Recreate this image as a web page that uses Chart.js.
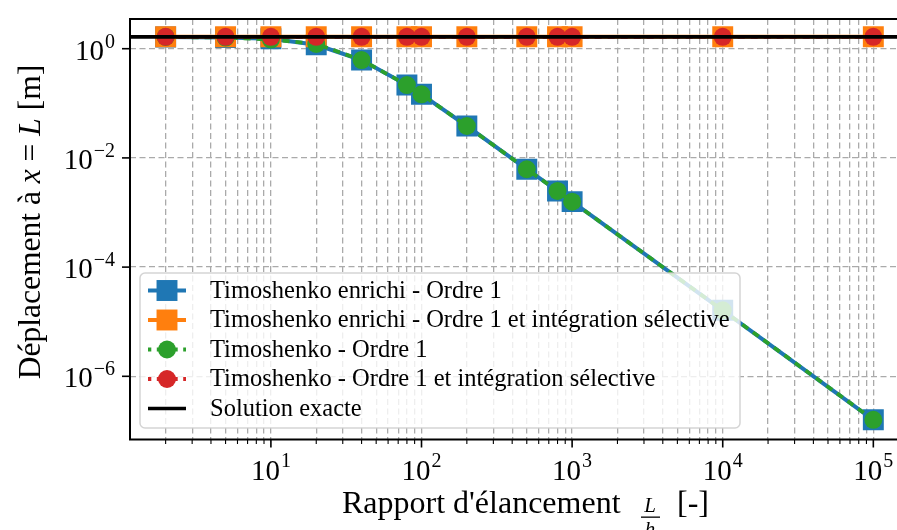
<!DOCTYPE html>
<html>
<head>
<meta charset="utf-8">
<script src="https://cdn.jsdelivr.net/npm/chart.js@4.4.0/dist/chart.umd.min.js"></script>
<style>
  html, body { margin: 0; padding: 0; background: #fff; }
</style>
</head>
<body>
<canvas id="miGrafico" width="897" height="530"></canvas>
<script>
// rapport d'élancement L/h
const ratios = [2, 5, 10, 20, 40, 80, 100, 200, 500, 800, 1000, 10000, 100000];

// déplacement à x = L [m]
const enrichi = [1.64, 1.61, 1.52, 1.18, 0.62, 0.216, 0.146, 0.0384, 0.0062, 0.00248, 0.00158, 1.62e-5, 1.6e-7];
const enrichiSelectif = [1.65, 1.65, 1.65, 1.65, 1.65, 1.65, 1.65, 1.65, 1.65, 1.65, 1.65, 1.65, 1.65];
const timo = [1.64, 1.60, 1.47, 1.22, 0.62, 0.216, 0.146, 0.0384, 0.0062, 0.00248, 0.00158, 1.62e-5, 1.6e-7];
const timoSelectif = [1.65, 1.65, 1.65, 1.65, 1.65, 1.65, 1.65, 1.65, 1.65, 1.65, 1.65, 1.65, 1.65];
const solutionExacte = 1.65;

const legendLabels = [
  "Timoshenko enrichi - Ordre 1",
  "Timoshenko enrichi - Ordre 1 et intégration sélective",
  "Timoshenko - Ordre 1",
  "Timoshenko - Ordre 1 et intégration sélective",
  "Solution exacte"
];

// axes
const xMin = 1.16;
const xMax = 1.436e5;
const yMin = 6.96e-8;
const yMax = 3.5;
const xMajor = [10, 100, 1000, 10000, 100000];
const xTickLabels = ["10^1", "10^2", "10^3", "10^4", "10^5"];
const yMajor = [1, 1e-2, 1e-4, 1e-6];
const yTickLabels = ["10^0", "10^-2", "10^-4", "10^-6"];

const xLabel = "Rapport d'élancement";
const yLabel = ["Déplacement à ", "x", " = ", "L", " [m]"];

const SERIF = "'Liberation Serif', serif";

const pts = (vals) => ratios.map((r, i) => ({ x: r, y: vals[i] }));

const datasets = [
  {
    label: legendLabels[0], data: pts(enrichi),
    borderColor: "#1f77b4", backgroundColor: "#1f77b4", borderWidth: 4,
    pointStyle: "rect", pointRadius: 14.8, pointBorderWidth: 0, order: 4
  },
  {
    label: legendLabels[1], data: pts(enrichiSelectif),
    borderColor: "#ff7f0e", backgroundColor: "#ff7f0e", borderWidth: 4,
    pointStyle: "rect", pointRadius: 14.8, pointBorderWidth: 0, order: 3
  },
  {
    label: legendLabels[2], data: pts(timo),
    borderColor: "#2ca02c", backgroundColor: "#2ca02c", borderWidth: 3.8, borderDash: [7, 6],
    pointStyle: "circle", pointRadius: 9, pointBorderWidth: 0, order: 2
  },
  {
    label: legendLabels[3], data: pts(timoSelectif),
    borderColor: "#d62728", backgroundColor: "#d62728", borderWidth: 3.8, borderDash: [7, 6],
    pointStyle: "circle", pointRadius: 9, pointBorderWidth: 0, order: 1
  },
  {
    label: legendLabels[4], data: [{ x: xMin, y: solutionExacte }, { x: xMax, y: solutionExacte }],
    borderColor: "#000", backgroundColor: "#000", borderWidth: 3.6,
    pointRadius: 0, order: 0
  }
];

// x ticks : 2..9 x 10^n
const xTicks = [];
for (let e = 0; e <= 5; e++) {
  for (let m = 1; m <= 9; m++) {
    const v = m * Math.pow(10, e);
    if (v >= xMin && v <= xMax) xTicks.push(v);
  }
}

const drawPow = (ctx, label, x, y, align, size) => {
  const [base, exp] = label.split("^");
  const expTxt = exp.replace("-", "\u2212");
  const small = Math.round(size * 0.7);
  ctx.font = size + "px " + SERIF;
  const wb = ctx.measureText(base).width;
  ctx.font = small + "px " + SERIF;
  const we = ctx.measureText(expTxt).width;
  let x0 = x;
  if (align === "center") x0 = x - (wb + we + 1) / 2;
  if (align === "right") x0 = x - (wb + we + 1);
  ctx.textAlign = "left";
  ctx.textBaseline = "alphabetic";
  ctx.fillStyle = "#000";
  ctx.font = size + "px " + SERIF;
  ctx.fillText(base, x0, y);
  ctx.font = small + "px " + SERIF;
  ctx.fillText(expTxt, x0 + wb + 1, y - size * 0.42);
};

const decor = {
  id: "decor",
  afterDatasetsDraw(chart) {
    const ctx = chart.ctx;
    // legende
    ctx.save();
    const bx = 140, by = 273, bw = 600, bh = 155;
    ctx.beginPath();
    ctx.roundRect(bx, by, bw, bh, 5);
    ctx.fillStyle = "rgba(255,255,255,0.8)";
    ctx.fill();
    ctx.strokeStyle = "rgba(204,204,204,0.85)";
    ctx.lineWidth = 1.5;
    ctx.stroke();

    chart.data.datasets.forEach((ds, i) => {
      const cy = 290.5 + i * 29.5;
      ctx.save();
      ctx.strokeStyle = ds.borderColor;
      ctx.lineWidth = ds.borderWidth;
      ctx.setLineDash(ds.borderDash ? [3.3, 5.5] : []);
      ctx.beginPath();
      ctx.moveTo(148, cy);
      ctx.lineTo(186, cy);
      ctx.stroke();
      ctx.setLineDash([]);
      if (ds.pointRadius > 0) {
        ctx.fillStyle = ds.backgroundColor;
        Chart.helpers.drawPoint(ctx, { pointStyle: ds.pointStyle, radius: ds.pointRadius, rotation: 0, borderWidth: 0 }, 167, cy);
      }
      ctx.restore();
      ctx.fillStyle = "#000";
      ctx.font = "24.5px " + SERIF;
      ctx.textAlign = "left";
      ctx.textBaseline = "alphabetic";
      ctx.fillText(ds.label, 210, cy + 7);
    });
    ctx.restore();
  },
  afterDraw(chart) {
    const ctx = chart.ctx;
    const a = chart.chartArea;
    const xs = chart.scales.x, ys = chart.scales.y;
    ctx.save();
    // cadre
    ctx.strokeStyle = "#000";
    ctx.lineWidth = 2;
    ctx.beginPath();
    ctx.moveTo(a.right + 2, a.top);
    ctx.lineTo(a.left, a.top);
    ctx.lineTo(a.left, a.bottom);
    ctx.lineTo(a.right + 2, a.bottom);
    ctx.stroke();

    // graduations x
    xTicks.forEach((v) => {
      const px = xs.getPixelForValue(v);
      const major = xMajor.includes(v);
      ctx.lineWidth = major ? 1.6 : 1.1;
      ctx.beginPath();
      ctx.moveTo(px, a.bottom);
      ctx.lineTo(px, a.bottom + (major ? 8 : 4.5));
      ctx.stroke();
    });
    xMajor.forEach((v, i) => {
      drawPow(ctx, xTickLabels[i], xs.getPixelForValue(v), a.bottom + 40, "center", 29);
    });

    // graduations y
    yMajor.forEach((v, i) => {
      const py = ys.getPixelForValue(v);
      ctx.lineWidth = 1.6;
      ctx.beginPath();
      ctx.moveTo(a.left, py);
      ctx.lineTo(a.left - 8, py);
      ctx.stroke();
      drawPow(ctx, yTickLabels[i], 115, py + 11, "right", 29);
    });

    // titre x
    ctx.fillStyle = "#000";
    ctx.textBaseline = "alphabetic";
    ctx.textAlign = "left";
    ctx.font = "32px " + SERIF;
    ctx.fillText(xLabel, 342, 513);
    ctx.font = "italic 21px " + SERIF;
    ctx.textAlign = "center";
    ctx.fillText("L", 650, 512);
    ctx.fillRect(641, 516.5, 19, 1.3);
    ctx.fillText("h", 650, 536);
    ctx.textAlign = "left";
    ctx.font = "32px " + SERIF;
    ctx.fillText("[-]", 677, 513);

    // titre y
    ctx.translate(40, 222);
    ctx.rotate(-Math.PI / 2);
    let total = 0;
    const fonts = yLabel.map((s, i) => (i === 1 || i === 3 ? "italic " : "") + "31.5px " + SERIF);
    yLabel.forEach((s, i) => { ctx.font = fonts[i]; total += ctx.measureText(s).width; });
    let cx = -total / 2;
    yLabel.forEach((s, i) => {
      ctx.font = fonts[i];
      ctx.fillText(s, cx, 0);
      cx += ctx.measureText(s).width;
    });
    ctx.restore();
  }
};

const ctx = document.getElementById("miGrafico").getContext("2d");

const chart = new Chart(ctx, {
  type: "line",
  data: { datasets: datasets },
  options: {
    responsive: false,
    animation: false,
    events: [],
    layout: { autoPadding: false, padding: { left: 130, top: 19, right: 0, bottom: 90.5 } },
    plugins: { legend: { display: false }, tooltip: { enabled: false } },
    elements: { line: { tension: 0 } },
    scales: {
      x: {
        type: "logarithmic",
        min: xMin,
        max: xMax,
        afterBuildTicks: (scale) => { scale.ticks = xTicks.map((v) => ({ value: v })); },
        ticks: { display: false },
        grid: { color: "#aaaaaa", lineWidth: 1.3, drawTicks: false },
        border: { display: false, dash: [6, 3.5] }
      },
      y: {
        type: "logarithmic",
        min: yMin,
        max: yMax,
        afterBuildTicks: (scale) => { scale.ticks = yMajor.map((v) => ({ value: v })); },
        ticks: { display: false },
        grid: { color: "#aaaaaa", lineWidth: 1.3, drawTicks: false },
        border: { display: false, dash: [6, 3.5] }
      }
    }
  },
  plugins: [decor]
});
</script>
</body>
</html>
